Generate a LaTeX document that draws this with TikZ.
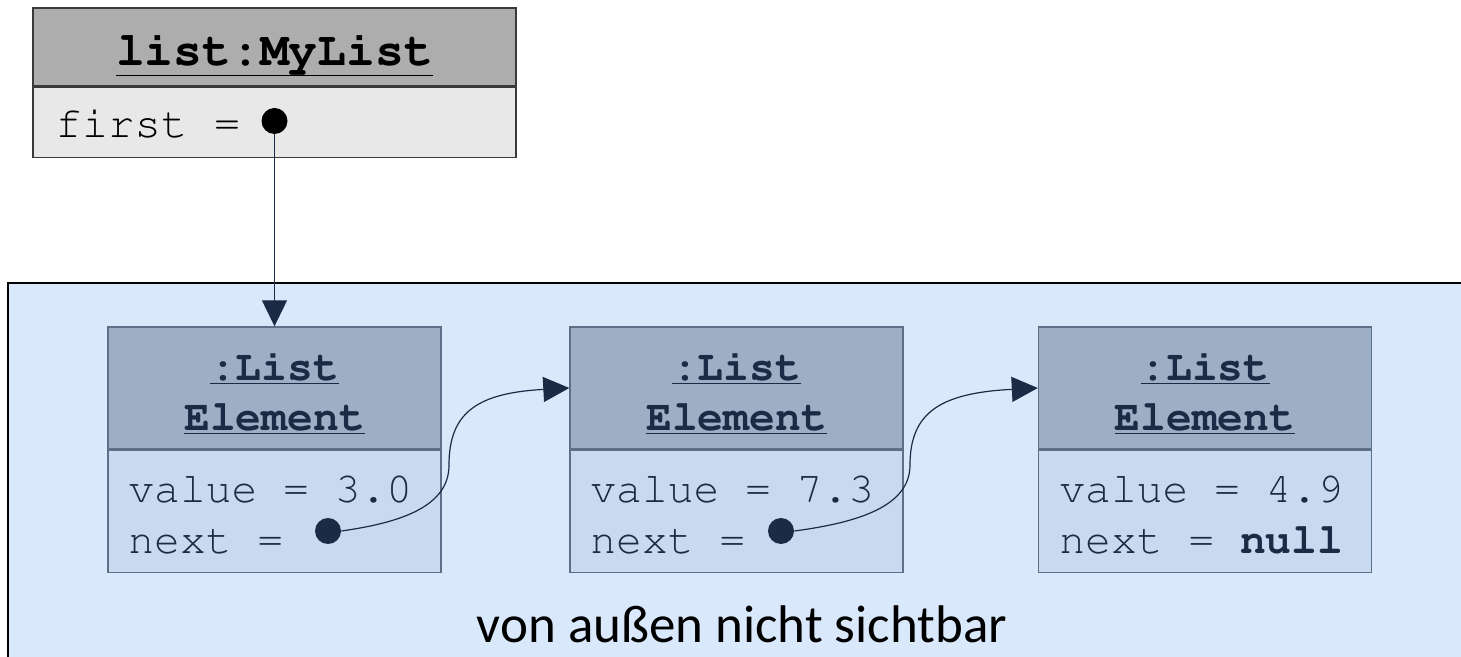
\documentclass[tikz,border=0pt]{standalone}
\usepackage[T1]{fontenc}
\usepackage{fontspec}
\setmainfont{Carlito}
\newcommand\courfont{\fontencoding{T1}\fontfamily{pcr}\selectfont}
\usepackage{tikz}
\usetikzlibrary{arrows.meta,positioning}
\definecolor{OuterBlue}{HTML}{DAE8FC}
\definecolor{ElemHead}{HTML}{9DAFC5}
\definecolor{ElemBody}{HTML}{C8DAEF}
\definecolor{ElemLine}{HTML}{5E6F88}
\definecolor{NavyDefault}{HTML}{1B2B45}
\definecolor{GrayHead}{HTML}{ADADAD}
\definecolor{GrayBody}{HTML}{E8E8E8}
\definecolor{GrayLine}{HTML}{3A3A3A}

\tikzset{
  monotext/.style={font=\courfont\fontsize{21.5}{25}\selectfont, inner sep=0pt},
  elemhead/.style={draw=ElemLine, fill=ElemHead, line width=0.7pt, minimum width=166.5pt, minimum height=61pt},
  elembody/.style={draw=ElemLine, fill=ElemBody, line width=0.7pt, minimum width=166.5pt, minimum height=61pt},
  elemtitle/.style={text=NavyDefault, font=\courfont\bfseries\fontsize{21.5}{25}\selectfont, inner sep=0pt, anchor=base},
  ptrdot/.style={circle, fill=#1, inner sep=0pt, minimum size=13pt},
  ptr/.style={draw=NavyDefault, line width=0.6pt, -{Triangle[length=13pt,width=12.5pt]}},
}

\begin{document}
\begin{tikzpicture}[x=0.5pt,y=0.5pt,yscale=-1,xscale=1]
\useasboundingbox (0,0) rectangle (1461,657);
\clip (0,0) rectangle (1461,657);

%Shape: Rectangle (hidden part)
\draw [fill=OuterBlue, line width=1pt] (8,283) rectangle (1480,680);

% list object
\node [draw=GrayLine, fill=GrayHead, line width=0.8pt, minimum width=241.5pt, minimum height=39pt] (listhead) at (274.5,47) {};
\node [draw=GrayLine, fill=GrayBody, line width=0.8pt, minimum width=241.5pt, minimum height=35pt,
  below=0pt of listhead] (listbody) {};
% Text Node
\node [inner sep=0pt, anchor=base, font=\courfont\bfseries\fontsize{24}{28}\selectfont] (listname) at (274.5,66) {\underline{list:MyList}};
\node [monotext, font=\courfont\fontsize{22}{26}\selectfont, anchor=base west] (firstlbl) at (55,138) {first =};
\node [ptrdot=black] (first) at (274.5,121) {};

% list elements
\node [elemhead] (head1) at (274.5,388) {};
\node [elembody, below=0pt of head1] (body1) {};
\node [elemhead] (head2) at (736.5,388) {};
\node [elembody, below=0pt of head2] (body2) {};
\node [elemhead] (head3) at (1205,388) {};
\node [elembody, below=0pt of head3] (body3) {};

% Text Node
\node [elemtitle] (cls1a) at (274.5,380) {\underline{:List}};
\node [elemtitle] (cls1b) at (274.5,430) {\underline{Element}};
\node [elemtitle] (cls2a) at (736.5,380) {\underline{:List}};
\node [elemtitle] (cls2b) at (736.5,430) {\underline{Element}};
\node [elemtitle] (cls3a) at (1205,380) {\underline{:List}};
\node [elemtitle] (cls3b) at (1205,430) {\underline{Element}};

\node [monotext, text=NavyDefault, anchor=base west] (val1) at (128,502) {value = 3.0};
\node [monotext, text=NavyDefault, anchor=base west] (nxt1) at (128,553) {next =};
\node [monotext, text=NavyDefault, anchor=base west] (val2) at (590,502) {value = 7.3};
\node [monotext, text=NavyDefault, anchor=base west] (nxt2) at (590,553) {next =};
\node [monotext, text=NavyDefault, anchor=base west] (val3) at (1059,502) {value = 4.9};
\node [monotext, text=NavyDefault, anchor=base west] (nxt3) at (1059,553) {next = \textbf{null}};

\node [ptrdot=NavyDefault] (next1) at (328,531) {};
\node [ptrdot=NavyDefault] (next2) at (781,531) {};

%Straight Lines
\draw [ptr] (first) -- (first |- head1.north);
%Curve Lines
\draw [ptr] (next1.east) .. controls (405,522) and (449,505) .. (449,465)
  .. controls (449,412) and (478,393) .. (head2.west);
\draw [ptr] (next2.east) .. controls (862,522) and (910,505) .. (910,465)
  .. controls (910,412) and (941,393) .. (head3.west);

% Text Node
\node [font=\fontsize{26.5}{30}\selectfont, anchor=base, inner sep=0pt] (hidden) at (742,642) {von außen nicht sichtbar};

\end{tikzpicture}
\end{document}
